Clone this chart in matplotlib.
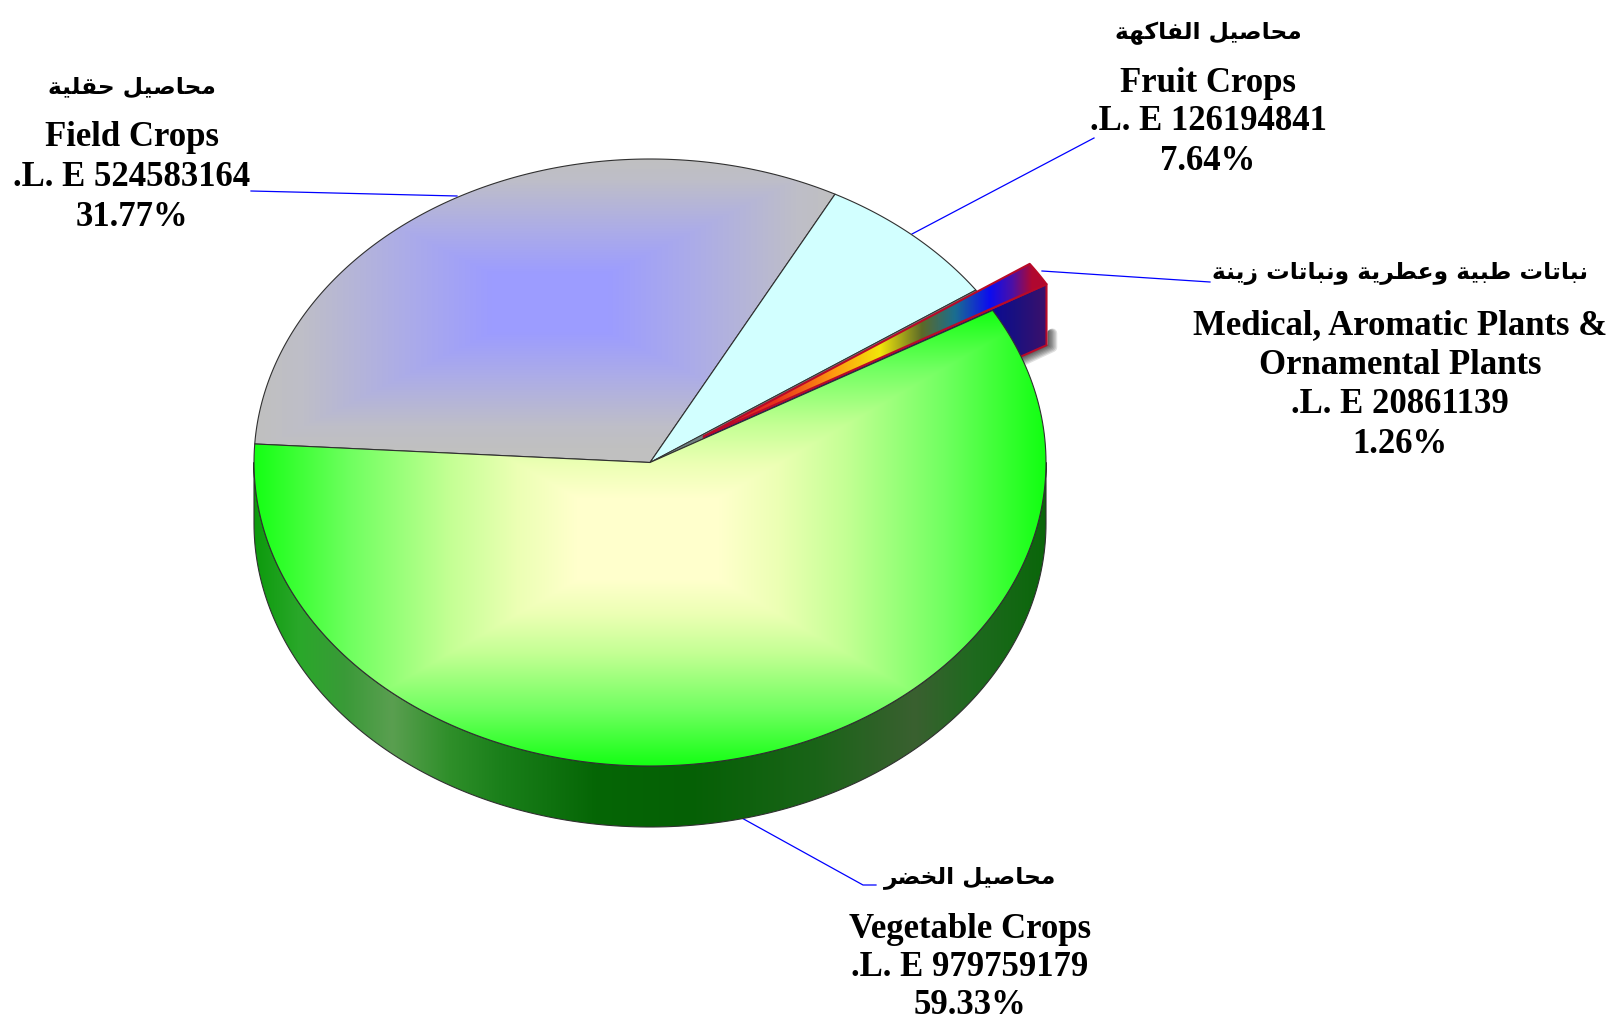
import numpy as np
import matplotlib
matplotlib.use('Agg')
import matplotlib.pyplot as plt
from matplotlib.colors import to_rgb
from matplotlib.patches import Polygon

# data
names_en = ['Field Crops', 'Fruit Crops', 'Medical, Aromatic Plants &\nOrnamental Plants', 'Vegetable Crops']
names_ar = ['محاصيل حقلية', 'محاصيل الفاكهة', 'نباتات طبية وعطرية ونباتات زينة', 'محاصيل الخضر']
values = [524583164, 126194841, 20861139, 979759179]

W, H = 1611, 1020
cx, cy, rx, ry = 650, 463.5, 396, 303.5
depth = 61
start_angle = 176.5
explode = 0.161

FORMS4 = {'ب': 0xFE8F, 'ت': 0xFE95, 'ح': 0xFEA1, 'خ': 0xFEA5, 'ص': 0xFEB9, 'ض': 0xFEBD, 'ط': 0xFEC1, 'ع': 0xFEC9,
          'ف': 0xFED1, 'ق': 0xFED5, 'ك': 0xFED9, 'ل': 0xFEDD, 'م': 0xFEE1, 'ن': 0xFEE5, 'ه': 0xFEE9, 'ي': 0xFEF1}
FORMS2 = {'ا': 0xFE8D, 'ة': 0xFE93, 'ر': 0xFEAD, 'ز': 0xFEAF, 'و': 0xFEED}


def shape_ar(s):
    # matplotlib has no arabic shaping, pick the joined forms and write them in visual order
    out = []
    for i, c in enumerate(s):
        if c == ' ':
            out.append(c)
            continue
        prev = s[i - 1] if i > 0 else ' '
        nxt = s[i + 1] if i < len(s) - 1 else ' '
        joined_before = prev in FORMS4
        joined_after = nxt != ' '
        if c in FORMS2:
            out.append(chr(FORMS2[c] + (1 if joined_before else 0)))
        elif joined_before and joined_after:
            out.append(chr(FORMS4[c] + 3))
        elif joined_before:
            out.append(chr(FORMS4[c] + 1))
        elif joined_after:
            out.append(chr(FORMS4[c] + 2))
        else:
            out.append(chr(FORMS4[c]))
    return ''.join(out[::-1])


def ramp(t, stops):
    pos = [p for p, c in stops]
    rgb = np.array([to_rgb(c) for p, c in stops])
    return np.dstack([np.interp(t, pos, rgb[:, k]) for k in range(3)])


X, Y = np.meshgrid(np.arange(W) + 0.5, np.arange(H) + 0.5)


def box_grad(bx, by, hw, hh, stops):
    return ramp(np.maximum(np.abs(X - bx) / hw, np.abs(Y - by) / hh), stops)


def arc(a1, a2, ox=0, oy=0, n=200):
    t = np.radians(np.linspace(a1, a2, n))
    return np.column_stack([cx + ox + rx * np.cos(t), cy + oy - ry * np.sin(t)])


def wedge(a1, a2, ox=0, oy=0):
    return np.vstack([[cx + ox, cy + oy], arc(a1, a2, ox, oy)])


layer = [1]


def next_z():
    # images sit under patches by default, so number everything by hand
    layer[0] += 1
    return layer[0]


def fill_img(img, pts):
    im = ax.imshow(img, extent=(0, W, H, 0), aspect='auto', interpolation='bilinear', zorder=next_z())
    im.set_clip_path(Polygon(pts, transform=ax.transData))


def outline(pts, color='#303030', lw=0.8):
    ax.add_patch(Polygon(pts, closed=True, fill=False, edgecolor=color, linewidth=lw, joinstyle='round', zorder=next_z()))


fig = plt.figure(figsize=(W / 100, H / 100), dpi=100)
ax = fig.add_axes([0, 0, 1, 1])
ax.axis('off')

# slice angles, clockwise from the left side
total = sum(values)
sweeps = [v / total * 360 for v in values]
edges = start_angle - np.cumsum([0] + sweeps)

# field
pts = wedge(edges[0], edges[1])
fill_img(box_grad(550, 304, 290, 145, [(0.2, '#9c9cff'), (0.5, '#acace8'), (0.85, '#bebec8'), (1, '#c0c0c0')]), pts)
outline(pts)

# fruit
pts = wedge(edges[1], edges[2])
ax.add_patch(Polygon(pts, closed=True, facecolor='#d2ffff', edgecolor='#303030', linewidth=0.8, zorder=next_z()))

# gap left by the pulled out slice
pts = wedge(edges[2], edges[3])
ax.add_patch(Polygon(pts, closed=True, facecolor='#6f8080', edgecolor='#303030', linewidth=0.6, zorder=next_z()))

# medical slice, pulled out along its middle
mid = np.radians((edges[2] + edges[3]) / 2)
ox, oy = explode * rx * np.cos(mid), -explode * ry * np.sin(mid)
corner = arc(edges[3], edges[3], ox, oy, n=1)[0]
apex = np.array([cx + ox, cy + oy])
wall = np.array([apex, corner, corner + [0, depth], apex + [0, depth]])

# small shadow under the wall
z = next_z()
for k in range(7, 0, -1):
    sx, sy = corner + [k * 0.7 + 1, depth + k * 0.3]
    ax.plot([sx - 28, sx, sx], [sy + 13, sy, sy - 14], color='black', alpha=0.12, linewidth=k * 1.0,
            solid_capstyle='round', solid_joinstyle='round', zorder=z)

fill_img(ramp(X, [(990, '#0a0a96'), (1015, '#1a1080'), (1050, '#401068')]), wall)
outline(wall, color='#b80a28', lw=1.5)

pts = wedge(edges[2], edges[3], ox, oy)
fill_img(ramp(X, [(705, '#cc1430'), (775, '#e8301c'), (835, '#ff9c10'), (880, '#f2e60a'), (922, '#5c6a28'),
                  (955, '#1a6e90'), (990, '#0c0cf0'), (1012, '#4a10a8'), (1032, '#b00830')]), pts)
outline(pts, color='#b80a28', lw=1.5)

# vegetable side wall, only the front half can be seen
side = np.vstack([arc(180, 360), arc(360, 180, 0, depth)])
fill_img(ramp(X, [(254, '#0c9a0c'), (300, '#2aa82a'), (345, '#3a9a38'), (392, '#5a9f50'), (449, '#2f8f2a'),
                  (502, '#1a7f1a'), (596, '#056605'), (690, '#056005'), (816, '#1a6418'), (915, '#3a6030'),
                  (973, '#1f6a1f'), (1046, '#0a660a')]), side)
outline(side)

# vegetable top
pts = wedge(edges[3], edges[4])
fill_img(box_grad(648, 540, 396, 228, [(0.18, '#ffffcc'), (0.33, '#ecffb4'), (0.5, '#c4ff94'), (0.75, '#70ff60'),
                                       (1, '#12ff12')]), pts)
outline(pts)

# leader lines
leaders = [[(251, 192), (457, 197)],
           [(1094, 139), (912, 235)],
           [(1042, 272), (1210, 283)],
           [(740, 818), (863, 886), (876, 886)]]
for line in leaders:
    ax.plot(*zip(*line), color='#0000ff', linewidth=0.9, zorder=1)

# labels
label_x = [132, 1208, 1400, 970]
label_y = [[87, 138, 178, 217], [33, 83, 122, 162], [274, 326, 366, 405, 445], [878, 930, 968, 1006]]
for i in range(4):
    ys = label_y[i]
    ax.text(label_x[i], ys[0], shape_ar(names_ar[i]), family='DejaVu Sans', fontweight='bold', fontsize=16.8,
            ha='center', va='center')
    lines = names_en[i].split('\n') + ['.L. E %d' % values[i], '%.2f%%' % (values[i] / total * 100)]
    for y, s in zip(ys[1:], lines):
        ax.text(label_x[i], y, s, family='Liberation Serif', fontweight='bold', fontsize=25, ha='center', va='center')

ax.set_xlim(0, W)
ax.set_ylim(H, 0)
fig.savefig('out.png', dpi=100)
